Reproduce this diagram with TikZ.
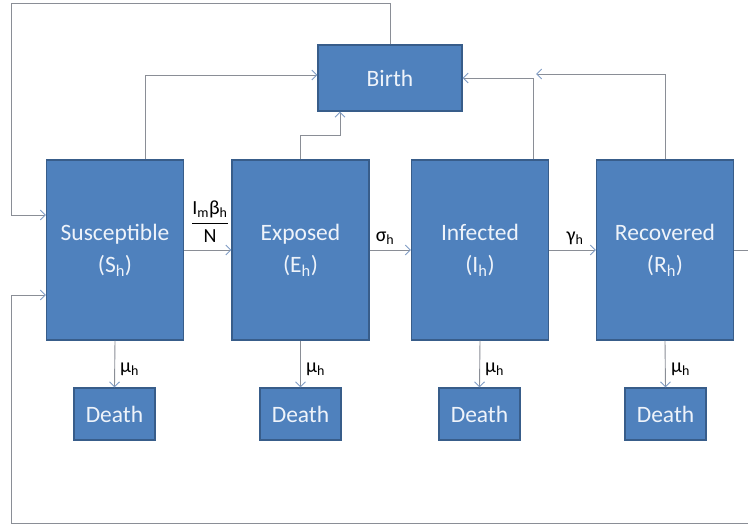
\documentclass[tikz,border=0pt]{standalone}
\usepackage{fontspec}
\setmainfont{Carlito}
\usetikzlibrary{arrows.meta}
\definecolor{boxfill}{HTML}{4F81BD}
\definecolor{boxline}{HTML}{385D8A}
\definecolor{linec}{HTML}{8A8E96}
\definecolor{tipc}{HTML}{7F9CC4}
\definecolor{boxtext}{HTML}{EEF3FA}
\tikzset{
  compbox/.style={draw=boxline, line width=1.2pt, fill=boxfill, text=boxtext, align=center,
    minimum width=137pt, minimum height=180pt, inner sep=0pt,
    font=\fontsize{23.5}{32}\selectfont},
  birthbox/.style={compbox, minimum width=144pt, minimum height=66pt},
  deathbox/.style={compbox, minimum width=81pt, minimum height=52pt},
  arr/.style={draw=linec, line width=0.9pt, -{Straight Barb[length=5pt,width=10pt,color=tipc]}},
  rate/.style={font=\fontsize{20}{22}\selectfont, inner sep=0pt}
}
\begin{document}
\begin{tikzpicture}[x=1pt,y=-1pt]
\useasboundingbox (0,0) rectangle (748,527);
\clip (0,0) rectangle (748,527);
\node[compbox] (S) at (115,250) {Susceptible\\(S\textsubscript{h})};
\node[compbox] (E) at (300.5,250) {Exposed\\(E\textsubscript{h})};
\node[compbox] (I) at (480,250) {Infected\\(I\textsubscript{h})};
\node[compbox] (R) at (665,250) {Recovered\\(R\textsubscript{h})};
\node[birthbox] (B) at (390,78) {Birth};
\node[deathbox] (D1) at (114.5,414) {Death};
\node[deathbox] (D2) at (300.5,414) {Death};
\node[deathbox] (D3) at (479.5,414) {Death};
\node[deathbox] (D4) at (665.5,414) {Death};
\coordinate (tl) at (11,3);
\coordinate (br) at (760,523);
\coordinate (bl) at (11,523);
\coordinate (j) at (536,74);
% horizontal flows
\draw[arr] (S.east) -- (E.west);
\draw[arr] (E.east) -- (I.west);
\draw[arr] (I.east) -- (R.west);
% deaths
\draw[arr] (S.south) -- (D1.north);
\draw[arr] (E.south) -- (D2.north);
\draw[arr] (I.south) -- (D3.north);
\draw[arr] (R.south) -- (D4.north);
% to birth
\draw[arr] ([xshift=30pt]S.north) |- ([yshift=3pt]B.west);
\draw[arr] (E.north) -- (E.north |- 0,135) -| ([xshift=-50pt]B.south);
\draw[arr] ([xshift=53pt]I.north) |- (B.east);
\draw[arr] (R.north) |- (j);
% loops
\draw[arr] (B.north) |- (tl) |- ([yshift=35pt]S.west);
\draw[arr] (R.east) -| (br) -- (bl) |- ([yshift=-45pt]S.west);
% labels
\node[rate] (f) at (210,222) {$\displaystyle\frac{\mbox{I\textsubscript{m}β\textsubscript{h}}}{\mbox{N}}$};
\node[rate] (sg) at (385,238) {σ\textsubscript{h}};
\node[rate] (gm) at (575,238) {γ\textsubscript{h}};
\node[rate, anchor=west] (m1) at (120,369) {μ\textsubscript{h}};
\node[rate, anchor=west] (m2) at (306,369) {μ\textsubscript{h}};
\node[rate, anchor=west] (m3) at (485,369) {μ\textsubscript{h}};
\node[rate, anchor=west] (m4) at (671,369) {μ\textsubscript{h}};
\end{tikzpicture}
\end{document}
